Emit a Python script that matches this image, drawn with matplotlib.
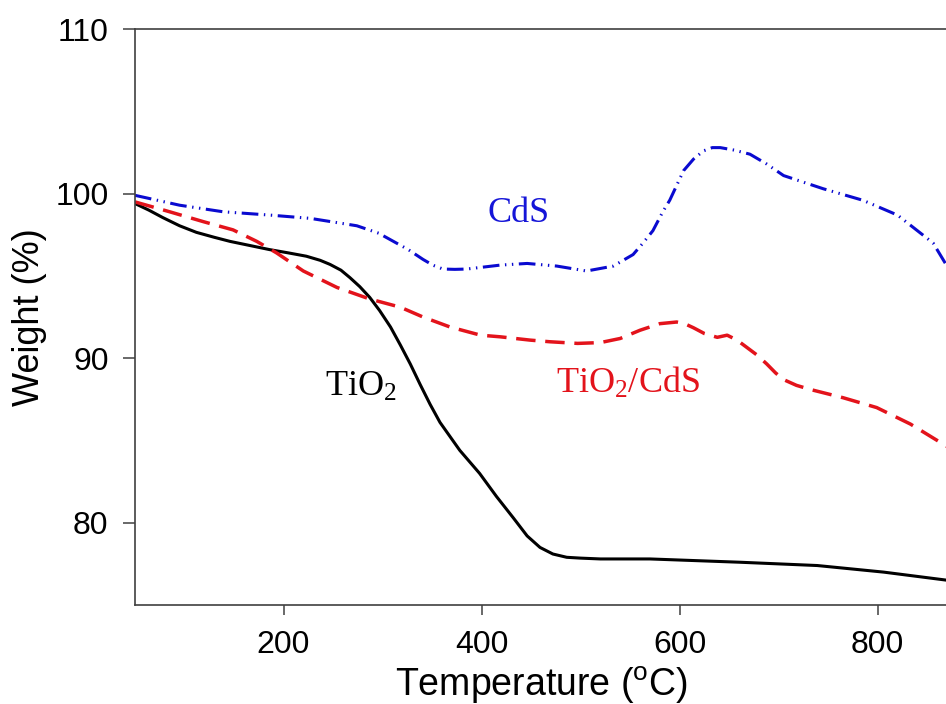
import matplotlib
matplotlib.use("Agg")
import matplotlib.pyplot as plt

# TGA curves (temperature in degC, weight in %)
TIO2_T = [50, 64, 78, 95, 112, 130, 146, 166, 186, 205, 223, 237, 247, 258,
          267, 277, 287, 297, 308, 318, 328, 338, 348, 358, 378, 398, 415,
          432, 446, 459, 472, 486, 500, 520, 570, 661, 739, 806, 871]
TIO2_W = [99.4, 99.0, 98.55, 98.05, 97.65, 97.35, 97.1, 96.85, 96.6, 96.4,
          96.2, 95.95, 95.7, 95.35, 94.9, 94.35, 93.7, 92.9, 91.9, 90.8, 89.65,
          88.4, 87.2, 86.1, 84.4, 83.0, 81.6, 80.3, 79.2, 78.5, 78.1, 77.9,
          77.85, 77.8, 77.8, 77.6, 77.4, 77.0, 76.5]

TIO2_CDS_T = [50, 85, 119, 149, 173, 193, 220, 254, 287, 318, 341, 368, 399,
              419, 449, 469, 497, 520, 540, 560, 580, 597, 605, 614, 625, 638,
              648, 658, 668, 678, 688, 697, 705, 718, 732, 765, 799, 833, 871]
TIO2_CDS_W = [99.5, 98.9, 98.3, 97.8, 97.1, 96.4, 95.3, 94.3, 93.6, 93.1, 92.5,
              91.9, 91.4, 91.3, 91.1, 91.0, 90.9, 90.95, 91.2, 91.7, 92.1, 92.2,
              92.1, 91.85, 91.5, 91.27, 91.4, 91.1, 90.65, 90.2, 89.65, 89.1,
              88.7, 88.35, 88.1, 87.6, 87.0, 86.0, 84.6]

CDS_T = [50, 95, 139, 186, 227, 274, 296, 311, 326, 341, 351, 361, 373, 385,
         419, 446, 476, 506, 533, 553, 563, 573, 583, 590, 597, 604, 614, 624,
         633, 641, 655, 671, 688, 705, 745, 785, 820, 856, 871]
CDS_W = [99.9, 99.3, 98.9, 98.7, 98.5, 98.05, 97.6, 97.1, 96.6, 96.0, 95.65,
         95.42, 95.4, 95.42, 95.66, 95.76, 95.6, 95.3, 95.6, 96.3, 97.0, 97.75,
         98.9, 99.6, 100.5, 101.4, 102.1, 102.6, 102.8, 102.8, 102.65, 102.4,
         101.8, 101.1, 100.3, 99.6, 98.7, 97.0, 95.5]

plt.rcParams["font.family"] = ["Liberation Sans", "DejaVu Sans"]
plt.rcParams["lines.scale_dashes"] = False

fig = plt.figure(figsize=(9.46, 7.04), dpi=100)
# the source image is cropped right at the end of the x range
ax = fig.add_axes([0.1427, 0.1406, 0.8594, 0.818])

ax.plot(TIO2_T, TIO2_W, color="black", lw=2.2, solid_joinstyle="round")
ax.plot(TIO2_CDS_T, TIO2_CDS_W, color="#e3131b", lw=2.5,
        linestyle=(0, (14, 7)))
ax.plot(CDS_T, CDS_W, color="#0a0ad0", lw=2.2,
        linestyle=(0, (12, 4, 1, 4, 1, 4)))

serif = ["Liberation Serif", "DejaVu Serif"]
ax.text(437, 98.8, "CdS", color="#1515d8", fontsize=26, family=serif,
        ha="center", va="center")
ax.text(278, 88.2, r"TiO$\mathregular{_2}$", color="black", fontsize=26,
        family=serif, ha="center", va="center")
ax.text(548, 88.5, r"TiO$\mathregular{_2}$/CdS", color="#e3131b", fontsize=26,
        family=serif, ha="center", va="center")

ax.set_xlim(50, 871)
ax.set_ylim(75, 110)
ax.set_xticks([200, 400, 600, 800])
ax.set_yticks([80, 90, 100, 110])

for side in ("left", "bottom", "top"):
    ax.spines[side].set_color("#404040")
    ax.spines[side].set_linewidth(1.2)
ax.spines["right"].set_visible(False)

ax.tick_params(direction="out", length=7, width=1.1, color="#404040",
               labelsize=23, pad=11)
ax.tick_params(axis="y", length=9, pad=10)

ax.set_xlabel(r"Temperature ($\mathregular{^{o}}$C)", fontsize=27, labelpad=3)
ax.set_ylabel("Weight (%)", fontsize=26, labelpad=6)

fig.savefig("out.png", dpi=100)
